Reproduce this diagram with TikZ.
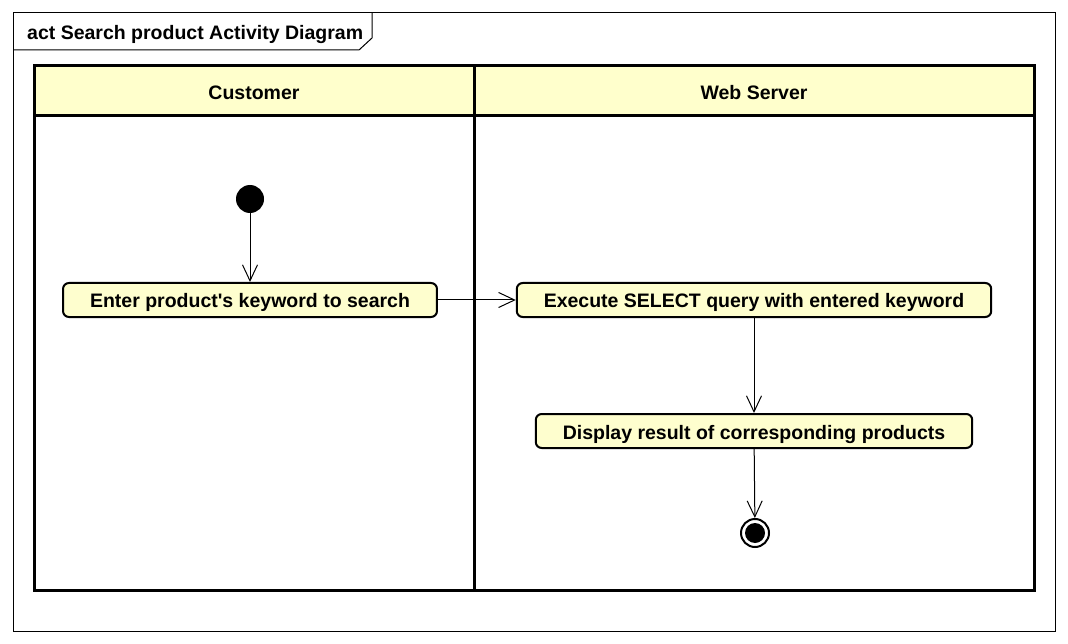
\documentclass[tikz,border=0pt]{standalone}
\usepackage{fontspec}
\setmainfont{Liberation Sans}
\usepackage{tikz}
\usetikzlibrary{arrows.meta, positioning, calc}
\definecolor{lanefill}{RGB}{255,255,204}
\definecolor{actfill}{RGB}{254,254,206}

\begin{document}
\begin{tikzpicture}[x=1pt, y=-1pt,
    font=\fontsize{19.5}{22}\selectfont\bfseries,
    txt/.style={text height=18pt, text depth=2pt},
    action/.style={txt, draw, line width=2pt, rounded corners=6pt, fill=actfill,
                   minimum height=34pt, inner xsep=27pt, inner ysep=0pt},
    flow/.style={-{Straight Barb[length=16pt, width=15pt]}, line width=1pt},
    lane/.style={draw, line width=3pt},
    dot/.style={circle, fill, inner sep=0pt}
  ]
\useasboundingbox (0,0) rectangle (1068,644);
% frame
\draw[line width=1pt] (13,13) rectangle (1055,631);
\draw[line width=1pt] (13,50) -- (359,50) -- (372,38) -- (372,13);
\node[txt, anchor=west, inner sep=0pt] (title) at (27,32) {act Search product Activity Diagram};
% swimlanes
\fill[lanefill] (34,66) rectangle (1034,116);
\draw[lane] (34,66) rectangle (1034,590);
\draw[lane] (34,116) -- (1034,116);
\draw[lane] (474,66) -- (474,590);
\node[txt] (customer) at (254,92) {Customer};
\node[txt] (webserver) at (754,92) {Web Server};
% activities
\node[dot, minimum size=28pt] (start) at (250,199) {};
\node[action] (enter) at (250,300) {Enter product\textquotesingle s keyword to search};
\node[action] (execute) at (754,300) {Execute SELECT query with entered keyword};
\node[action] (display) at (754,431) {Display result of corresponding products};
\node[circle, draw, line width=2pt, minimum size=28pt, inner sep=0pt] (stop) at (755,533) {};
\node[dot, minimum size=20pt] (stopdot) at (stop) {};
% flows
\draw[flow] (start) -- (enter);
\draw[flow] (enter) -- (execute);
\draw[flow] (execute) -- (display);
\draw[flow] (display) -- (stop);
\end{tikzpicture}
\end{document}
